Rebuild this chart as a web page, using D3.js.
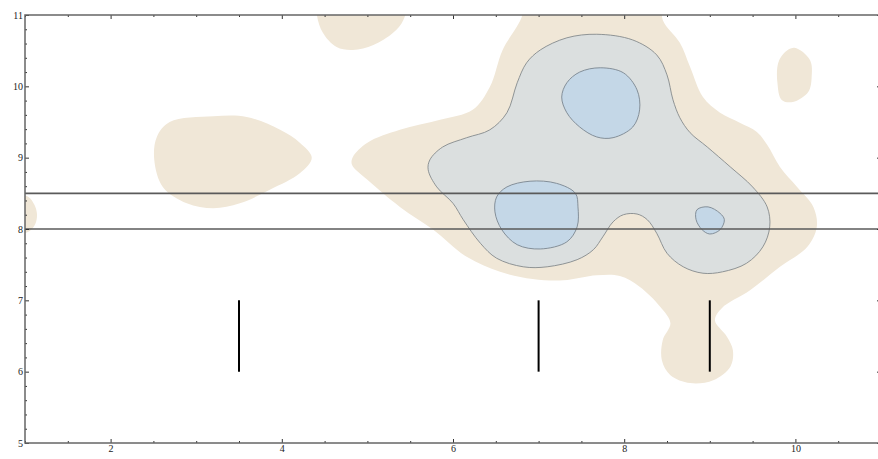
<!DOCTYPE html>
<html>
<head>
<meta charset="utf-8">
<script src="https://cdn.jsdelivr.net/npm/d3@7"></script>
<style>
    body { margin: 0; background: #fff; }
    svg text { font-family: "Liberation Serif", "DejaVu Serif", serif; font-size: 10px; fill: #222; }
</style>
</head>
<body>
<svg id="chart"></svg>
<script>
// contour regions, in data units [x, y]
let outerMain = [
    [6.81, 11.3], [6.81, 11.0], [6.58, 10.51], [6.43, 9.99], [6.23, 9.67], [5.85, 9.53],
    [5.38, 9.39], [5.00, 9.21], [4.83, 9.01], [4.82, 8.90], [5.00, 8.69], [5.38, 8.31],
    [5.77, 7.99], [6.16, 7.61], [6.55, 7.40], [6.93, 7.30], [7.29, 7.28], [7.68, 7.35],
    [7.95, 7.34], [8.18, 7.19], [8.42, 6.91], [8.54, 6.68], [8.45, 6.44], [8.44, 6.16],
    [8.54, 5.95], [8.77, 5.84], [9.04, 5.88], [9.24, 6.07], [9.27, 6.30], [9.20, 6.49],
    [9.06, 6.72], [9.14, 6.89], [9.47, 7.14], [9.82, 7.47], [10.14, 7.75], [10.25, 8.03],
    [10.21, 8.31], [10.02, 8.59], [9.82, 8.87], [9.67, 9.18], [9.55, 9.36], [9.35, 9.49],
    [9.12, 9.63], [8.92, 9.85], [8.77, 10.27], [8.65, 10.61], [8.45, 10.93], [8.42, 11.3]
];
let outerLeft = [
    [3.20, 9.58], [3.59, 9.57], [3.98, 9.39], [4.21, 9.21], [4.35, 9.00], [4.21, 8.78],
    [3.86, 8.55], [3.51, 8.36], [3.20, 8.29], [2.89, 8.36], [2.61, 8.59], [2.51, 8.97],
    [2.54, 9.29], [2.69, 9.50]
];
let outerEdge = [
    [0.88, 8.48], [1.04, 8.45], [1.11, 8.34], [1.14, 8.21], [1.12, 8.07], [1.05, 7.97], [0.88, 7.93]
];
let outerTop = [
    [4.41, 11.3], [4.41, 11.0], [4.48, 10.75], [4.64, 10.55], [4.83, 10.51], [5.07, 10.58],
    [5.30, 10.75], [5.42, 10.93], [5.46, 11.3]
];
let outerRight = [
    [9.99, 10.54], [10.17, 10.37], [10.19, 10.13], [10.15, 9.92], [9.97, 9.78],
    [9.84, 9.81], [9.79, 10.05], [9.80, 10.33], [9.88, 10.48]
];
let middle = [
    [7.68, 10.73], [8.10, 10.65], [8.38, 10.44], [8.50, 10.16], [8.57, 9.81], [8.65, 9.56],
    [8.77, 9.35], [8.97, 9.15], [9.24, 8.87], [9.50, 8.59], [9.67, 8.31], [9.70, 8.03],
    [9.62, 7.75], [9.43, 7.52], [9.15, 7.40], [8.92, 7.38], [8.69, 7.47], [8.50, 7.66],
    [8.38, 7.94], [8.27, 8.13], [8.15, 8.21], [7.99, 8.20], [7.87, 8.10], [7.75, 7.89],
    [7.64, 7.71], [7.45, 7.57], [7.10, 7.47], [6.82, 7.47], [6.51, 7.59], [6.32, 7.80],
    [6.12, 8.13], [6.00, 8.36], [5.81, 8.59], [5.71, 8.83], [5.73, 8.97], [5.88, 9.15],
    [6.16, 9.28], [6.43, 9.39], [6.63, 9.63], [6.75, 10.05], [6.86, 10.33], [7.02, 10.51],
    [7.33, 10.68]
];
let innerTop = [
    [7.72, 10.26], [7.99, 10.19], [8.15, 9.95], [8.18, 9.67], [8.10, 9.43], [7.87, 9.28],
    [7.68, 9.29], [7.48, 9.43], [7.33, 9.63], [7.27, 9.85], [7.33, 10.05], [7.48, 10.20]
];
let innerLeft = [
    [6.90, 8.67], [7.21, 8.64], [7.43, 8.50], [7.46, 8.31], [7.45, 8.03], [7.33, 7.82],
    [7.02, 7.72], [6.75, 7.78], [6.57, 7.99], [6.49, 8.24], [6.51, 8.45], [6.63, 8.59]
];
let innerSmall = [
    [8.85, 8.27], [8.98, 8.31], [9.12, 8.22], [9.17, 8.13], [9.12, 7.99], [9.00, 7.93],
    [8.91, 7.99], [8.84, 8.13]
];

let hLines = [8.5, 8];
let vSegments = [[3.5, 6, 7], [7, 6, 7], [9, 6, 7]];

let xMajor = [2, 4, 6, 8, 10];
let yMajor = [5, 6, 7, 8, 9, 10, 11];

let width = 878, height = 459;
let margin = {left: 25, right: -3, top: 15, bottom: 16};

let svg = d3.select("#chart")
    .attr("width", width)
    .attr("height", height);

let xScale = d3.scaleLinear().domain([1, 11])
    .range([margin.left, width - margin.right]);
let yScale = d3.scaleLinear().domain([5, 11])
    .range([height - margin.bottom, margin.top]);

let frameLeft = xScale(1), frameRight = xScale(11),
    frameTop = yScale(11), frameBottom = yScale(5);

svg.append("clipPath").attr("id", "plot")
    .append("rect")
    .attr("x", frameLeft).attr("y", frameTop)
    .attr("width", frameRight - frameLeft)
    .attr("height", frameBottom - frameTop);

let shape = d3.line()
    .x(function (d) { return xScale(d[0]); })
    .y(function (d) { return yScale(d[1]); })
    .curve(d3.curveCatmullRomClosed.alpha(0.5));

let regions = svg.append("g").attr("clip-path", "url(#plot)");

function drawLevel(list, fill, stroke) {
    regions.selectAll(null)
        .data(list)
        .enter()
        .append("path")
        .attr("d", shape)
        .attr("fill", fill)
        .attr("stroke", stroke)
        .attr("stroke-width", stroke === "none" ? 0 : 0.9);
}

drawLevel([outerMain, outerLeft, outerEdge, outerTop, outerRight], "#f0e7d7", "none");
drawLevel([middle], "#dbdfdf", "#858a8c");
drawLevel([innerTop, innerLeft, innerSmall], "#c4d7e7", "#7b8690");

regions.selectAll(".hline")
    .data(hLines)
    .enter()
    .append("line")
    .attr("class", "hline")
    .attr("x1", frameLeft).attr("x2", frameRight)
    .attr("y1", function (d) { return yScale(d); })
    .attr("y2", function (d) { return yScale(d); })
    .attr("stroke", "#5a5a5a")
    .attr("stroke-width", 1.6);

regions.selectAll(".vseg")
    .data(vSegments)
    .enter()
    .append("line")
    .attr("class", "vseg")
    .attr("x1", function (d) { return xScale(d[0]); })
    .attr("x2", function (d) { return xScale(d[0]); })
    .attr("y1", function (d) { return yScale(d[1]); })
    .attr("y2", function (d) { return yScale(d[2]); })
    .attr("stroke", "#000")
    .attr("stroke-width", 2);

// frame with inward ticks, mathematica style
let xMinor = d3.range(1, 11.01, 0.5).filter(function (v) { return xMajor.indexOf(v) < 0; });
let yMinor = d3.range(5, 11.01, 0.2).map(function (v) { return Math.round(v * 10) / 10; })
    .filter(function (v) { return yMajor.indexOf(v) < 0; });

function frameAxis(axis, ticks, size, labels, pos) {
    let g = svg.append("g").attr("transform", pos);
    g.call(axis.tickValues(ticks).tickSize(size).tickPadding(labels ? 6 + size : 3)
        .tickFormat(labels ? d3.format("d") : ""));
    g.select(".domain").remove();
    g.selectAll(".tick line").attr("stroke", "#333").attr("stroke-width", 1);
    return g;
}

frameAxis(d3.axisBottom(xScale), xMajor, -4, true, "translate(0," + frameBottom + ")");
frameAxis(d3.axisBottom(xScale), xMinor, -2, false, "translate(0," + frameBottom + ")");
frameAxis(d3.axisTop(xScale), xMajor, -4, false, "translate(0," + frameTop + ")");
frameAxis(d3.axisTop(xScale), xMinor, -2, false, "translate(0," + frameTop + ")");
frameAxis(d3.axisLeft(yScale), yMajor, -4, true, "translate(" + frameLeft + ",0)");
frameAxis(d3.axisLeft(yScale), yMinor, -2, false, "translate(" + frameLeft + ",0)");
frameAxis(d3.axisRight(yScale), yMajor, -4, false, "translate(" + frameRight + ",0)");
frameAxis(d3.axisRight(yScale), yMinor, -2, false, "translate(" + frameRight + ",0)");

svg.append("rect")
    .attr("x", frameLeft).attr("y", frameTop)
    .attr("width", frameRight - frameLeft).attr("height", frameBottom - frameTop)
    .attr("fill", "none")
    .attr("stroke", "#666")
    .attr("stroke-width", 1.5);
</script>
</body>
</html>
